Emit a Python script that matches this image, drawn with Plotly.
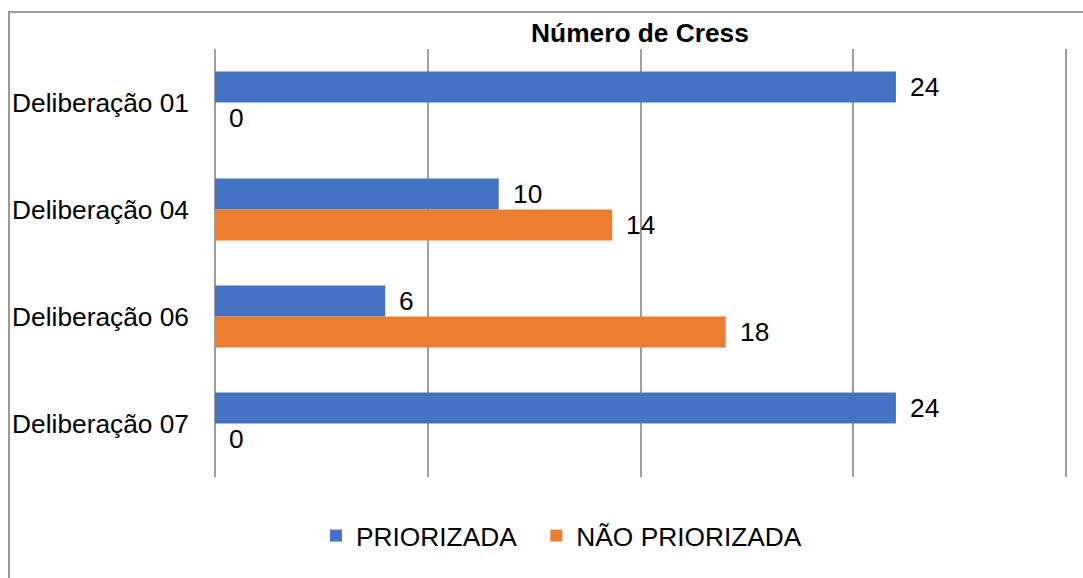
import plotly.graph_objects as go

categories = ["Deliberação 01", "Deliberação 04", "Deliberação 06", "Deliberação 07"]
priorizada = [24, 10, 6, 24]
nao_priorizada = [0, 14, 18, 0]
series_names = ["PRIORIZADA", "NÃO PRIORIZADA"]
colors = ["#4472C4", "#ED7D31"]
title_text = "Número de Cress"

FONT = "Liberation Sans, Arial, sans-serif"
FS = 26.3
W, H = 1083, 578
ML, MR, MT, MB = 215, 14, 49, 101

fig = go.Figure()
for i, (name, vals, col) in enumerate(zip(series_names, [priorizada, nao_priorizada], colors)):
    fig.add_trace(go.Bar(
        y=categories, x=vals, orientation="h",
        name=name + ("\u00a0\u00a0" if i == 0 else ""),
        marker=dict(color=col, line=dict(width=0)),
    ))

annotations = []
for vals, shift in [(priorizada, 15.5), (nao_priorizada, -15.5)]:
    for c, v in zip(categories, vals):
        annotations.append(dict(
            x=v, y=c, xref="x", yref="y", text=str(v), showarrow=False,
            xanchor="left", yanchor="middle", xshift=12, yshift=shift,
            font=dict(family=FONT, size=FS, color="#000000"),
        ))

pw = W - ML - MR
ph = H - MT - MB
fig.update_layout(
    width=W, height=H,
    margin=dict(l=ML, r=MR, t=MT, b=MB, autoexpand=False),
    paper_bgcolor="white", plot_bgcolor="white",
    barmode="group", bargap=0.42, bargroupgap=0,
    title=dict(text="<b>" + title_text + "</b>", x=(640 - ML) / pw, xref="paper",
               y=1 - 33 / H, yref="container", yanchor="middle", xanchor="center",
               font=dict(family=FONT, size=FS, color="#000000")),
    xaxis=dict(range=[0, 30.1], tickmode="linear", tick0=0, dtick=7.5,
               showticklabels=False, automargin=False,
               showgrid=True, gridcolor="#A0A0A0", gridwidth=2,
               zeroline=True, zerolinecolor="#A0A0A0", zerolinewidth=2,
               showline=False, fixedrange=True),
    yaxis=dict(autorange="reversed", showgrid=False, zeroline=False, showline=False,
               ticks="", ticklabelstandoff=25, automargin=False,
               tickfont=dict(family=FONT, size=FS, color="#000000")),
    legend=dict(orientation="h", x=(316 - ML) / pw, xanchor="left",
                y=-(536 - (H - MB)) / ph, yanchor="middle",
                font=dict(family=FONT, size=FS, color="#000000"),
                traceorder="normal", itemsizing="constant"),
    annotations=annotations,
    shapes=[dict(type="rect", xref="paper", yref="paper",
                 x0=(9 - ML) / pw, x1=(1100 - ML) / pw,
                 y0=-(600 - (H - MB)) / ph, y1=1 + (MT - 12) / ph,
                 line=dict(color="#9A9A9A", width=2), fillcolor="rgba(0,0,0,0)",
                 layer="above")],
)

fig.write_html("out.html", config={"displayModeBar": False},
               post_script="document.body.style.margin='0';document.body.style.overflow='hidden';")
